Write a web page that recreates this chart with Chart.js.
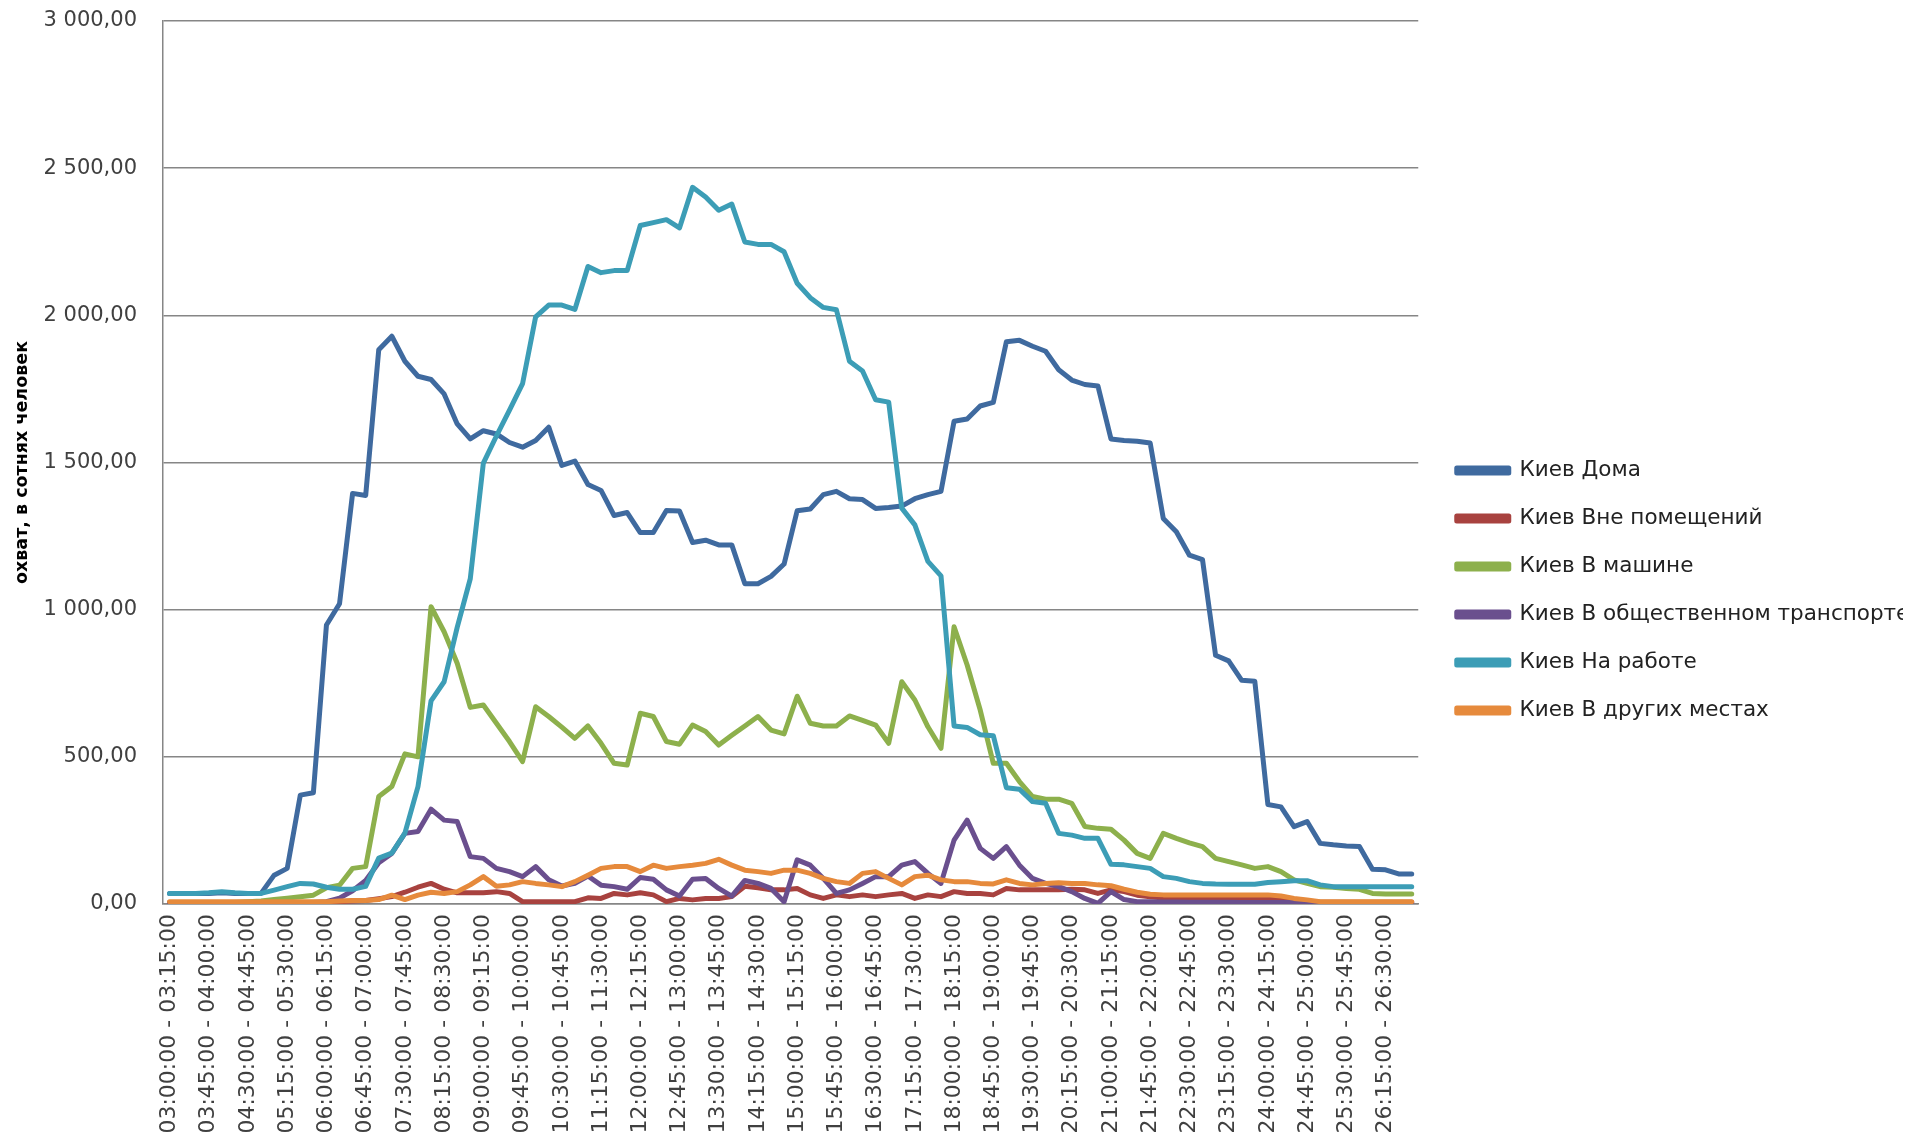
<!DOCTYPE html>
<html>
<head>
<meta charset="utf-8">
<script src="https://cdn.jsdelivr.net/npm/chart.js@4.4.1/dist/chart.umd.min.js"></script>
<style>
  html, body { margin: 0; padding: 0; background: #fff; }
  #wrap { width: 1923px; height: 1138px; }
</style>
</head>
<body>
<div id="wrap"><canvas id="chart" width="1923" height="1138"></canvas></div>
<script>
// Интервалы по 15 минут (03:00 - 27:00)
var categories = [
  "03:00:00 - 03:15:00", "03:15:00 - 03:30:00", "03:30:00 - 03:45:00", "03:45:00 - 04:00:00",
  "04:00:00 - 04:15:00", "04:15:00 - 04:30:00", "04:30:00 - 04:45:00", "04:45:00 - 05:00:00",
  "05:00:00 - 05:15:00", "05:15:00 - 05:30:00", "05:30:00 - 05:45:00", "05:45:00 - 06:00:00",
  "06:00:00 - 06:15:00", "06:15:00 - 06:30:00", "06:30:00 - 06:45:00", "06:45:00 - 07:00:00",
  "07:00:00 - 07:15:00", "07:15:00 - 07:30:00", "07:30:00 - 07:45:00", "07:45:00 - 08:00:00",
  "08:00:00 - 08:15:00", "08:15:00 - 08:30:00", "08:30:00 - 08:45:00", "08:45:00 - 09:00:00",
  "09:00:00 - 09:15:00", "09:15:00 - 09:30:00", "09:30:00 - 09:45:00", "09:45:00 - 10:00:00",
  "10:00:00 - 10:15:00", "10:15:00 - 10:30:00", "10:30:00 - 10:45:00", "10:45:00 - 11:00:00",
  "11:00:00 - 11:15:00", "11:15:00 - 11:30:00", "11:30:00 - 11:45:00", "11:45:00 - 12:00:00",
  "12:00:00 - 12:15:00", "12:15:00 - 12:30:00", "12:30:00 - 12:45:00", "12:45:00 - 13:00:00",
  "13:00:00 - 13:15:00", "13:15:00 - 13:30:00", "13:30:00 - 13:45:00", "13:45:00 - 14:00:00",
  "14:00:00 - 14:15:00", "14:15:00 - 14:30:00", "14:30:00 - 14:45:00", "14:45:00 - 15:00:00",
  "15:00:00 - 15:15:00", "15:15:00 - 15:30:00", "15:30:00 - 15:45:00", "15:45:00 - 16:00:00",
  "16:00:00 - 16:15:00", "16:15:00 - 16:30:00", "16:30:00 - 16:45:00", "16:45:00 - 17:00:00",
  "17:00:00 - 17:15:00", "17:15:00 - 17:30:00", "17:30:00 - 17:45:00", "17:45:00 - 18:00:00",
  "18:00:00 - 18:15:00", "18:15:00 - 18:30:00", "18:30:00 - 18:45:00", "18:45:00 - 19:00:00",
  "19:00:00 - 19:15:00", "19:15:00 - 19:30:00", "19:30:00 - 19:45:00", "19:45:00 - 20:00:00",
  "20:00:00 - 20:15:00", "20:15:00 - 20:30:00", "20:30:00 - 20:45:00", "20:45:00 - 21:00:00",
  "21:00:00 - 21:15:00", "21:15:00 - 21:30:00", "21:30:00 - 21:45:00", "21:45:00 - 22:00:00",
  "22:00:00 - 22:15:00", "22:15:00 - 22:30:00", "22:30:00 - 22:45:00", "22:45:00 - 23:00:00",
  "23:00:00 - 23:15:00", "23:15:00 - 23:30:00", "23:30:00 - 23:45:00", "23:45:00 - 24:00:00",
  "24:00:00 - 24:15:00", "24:15:00 - 24:30:00", "24:30:00 - 24:45:00", "24:45:00 - 25:00:00",
  "25:00:00 - 25:15:00", "25:15:00 - 25:30:00", "25:30:00 - 25:45:00", "25:45:00 - 26:00:00",
  "26:00:00 - 26:15:00", "26:15:00 - 26:30:00", "26:30:00 - 26:45:00", "26:45:00 - 27:00:00"
];

// Охват по местам, в сотнях человек
var doma = [
  36, 36, 36, 36, 38, 36, 36, 36, 98, 121, 370, 378, 948, 1020, 1395, 1388,
  1883, 1929, 1844, 1793, 1782, 1733, 1631, 1580, 1608, 1597, 1568, 1552, 1575, 1620, 1490, 1505,
  1425, 1405, 1320, 1330, 1262, 1262, 1337, 1335, 1228, 1236, 1220, 1220, 1088, 1088, 1113, 1155,
  1336, 1342, 1391, 1402, 1377, 1374, 1344, 1347, 1352, 1377, 1391, 1402, 1640, 1648, 1692, 1704,
  1910, 1915, 1895, 1878, 1815, 1780, 1765, 1760, 1580, 1575, 1572, 1566, 1310, 1265, 1185, 1170,
  845, 826, 760, 757, 338, 330, 263, 280, 206, 201, 197, 195, 118, 116, 102, 102
];
var vnePomeshcheniy = [
  5, 5, 5, 5, 5, 5, 5, 5, 5, 5, 5, 5, 5, 8, 10, 12,
  18, 25, 40, 57, 70, 50, 38, 38, 38, 42, 36, 8, 8, 8, 8, 8,
  21, 19, 36, 31, 38, 31, 8, 19, 14, 19, 19, 25, 60, 55, 48, 48,
  53, 31, 19, 31, 25, 31, 25, 31, 36, 19, 31, 25, 42, 36, 36, 31,
  53, 48, 48, 48, 48, 50, 48, 36, 48, 42, 30, 25, 20, 20, 20, 20,
  20, 20, 20, 20, 20, 20, 8, 6, 6, 6, 6, 6, 6, 6, 6, 6
];
var vMashine = [
  5, 5, 5, 5, 5, 5, 8, 10, 15, 20, 25, 30, 55, 64, 121, 127,
  365, 399, 510, 500, 1010, 925, 818, 668, 676, 614, 552, 484, 670, 637, 601, 563,
  605, 546, 478, 472, 648, 637, 552, 543, 608, 586, 540, 573, 605, 637, 591, 578,
  706, 614, 605, 605, 639, 624, 608, 546, 755, 693, 602, 529, 942, 812, 659, 478,
  478, 416, 365, 356, 356, 342, 263, 257, 254, 217, 172, 155, 240, 223, 208, 195,
  155, 144, 133, 121, 127, 110, 82, 70, 59, 57, 53, 50, 36, 34, 34, 34
];
var vTransporte = [
  3, 3, 3, 3, 3, 3, 3, 3, 3, 3, 3, 5, 8, 20, 45, 80,
  140, 172, 240, 246, 322, 285, 280, 161, 155, 121, 110, 93, 127, 82, 61, 70,
  95, 64, 59, 50, 90, 84, 48, 27, 84, 87, 53, 27, 80, 70, 53, 8,
  150, 132, 87, 36, 48, 70, 93, 93, 132, 144, 104, 70, 217, 285, 189, 155,
  195, 132, 87, 70, 59, 42, 19, 2, 42, 15, 8, 8, 7, 7, 6, 6,
  6, 6, 5, 5, 5, 5, 5, 5, 5, 5, 5, 5, 5, 5, 5, 5
];
var naRabote = [
  36, 36, 36, 38, 42, 38, 36, 36, 47, 59, 70, 68, 57, 50, 50, 60,
  156, 173, 241, 399, 690, 755, 940, 1105, 1498, 1590, 1678, 1768, 1995, 2035, 2035, 2020,
  2166, 2145, 2152, 2152, 2305, 2315, 2325, 2297, 2435, 2402, 2357, 2378, 2249, 2241, 2241, 2216,
  2109, 2060, 2027, 2019, 1844, 1811, 1713, 1705, 1345, 1288, 1164, 1115, 605, 600, 575, 572,
  395, 390, 348, 342, 240, 234, 223, 223, 135, 133, 127, 121, 93, 87, 76, 70,
  68, 67, 67, 67, 73, 76, 79, 79, 65, 59, 59, 59, 59, 59, 59, 59
];
var vDrugihMestah = [
  8, 8, 8, 8, 8, 8, 8, 8, 8, 8, 8, 8, 8, 10, 12, 12,
  15, 30, 15, 30, 40, 36, 42, 65, 93, 60, 65, 76, 70, 65, 59, 76,
  98, 121, 127, 127, 110, 132, 121, 127, 132, 138, 152, 132, 115, 110, 104, 115,
  115, 104, 87, 76, 70, 104, 110, 87, 65, 93, 98, 82, 76, 76, 70, 68,
  82, 70, 65, 70, 72, 70, 70, 65, 62, 50, 40, 33, 31, 31, 31, 31,
  31, 31, 31, 31, 31, 27, 19, 14, 8, 8, 8, 8, 8, 8, 8, 8
];

var seriesNames = ["Киев Дома", "Киев Вне помещений", "Киев В машине",
  "Киев В общественном транспорте", "Киев На работе", "Киев В других местах"];
var seriesColors = ["#3f6a9f", "#a8423f", "#8db04c", "#6a4f8e", "#3c9db6", "#e68a3c"];
var seriesData = [doma, vnePomeshcheniy, vMashine, vTransporte, naRabote, vDrugihMestah];

var yMax = 3000;
var yStep = 500;

var FONT = "'DejaVu Sans', Verdana, sans-serif";

// 2500 -> "2 500,00"
function formatNumber(v) {
  var parts = v.toFixed(2).split(".");
  var intPart = parts[0].replace(/\B(?=(\d{3})+(?!\d))/g, " ");
  return intPart + "," + parts[1];
}

// последние серии рисуются поверх (как в Excel)
var datasets = seriesNames.map(function(name, i) {
  return {
    label: name,
    data: seriesData[i],
    borderColor: seriesColors[i],
    backgroundColor: seriesColors[i],
    borderWidth: 5,
    pointRadius: 0,
    tension: 0,
    fill: false,
    order: seriesNames.length - i
  };
});

// легенда чуть правее, чем её ставит раскладка
var legendShift = {
  id: "legendShift",
  afterLayout: function(chart) {
    chart.legend.left += 12;
    chart.legend.right += 12;
  }
};

var ctx = document.getElementById("chart").getContext("2d");
var chart = new Chart(ctx, {
  type: "line",
  data: {
    labels: categories,
    datasets: datasets
  },
  plugins: [legendShift],
  options: {
    responsive: false,
    animation: false,
    devicePixelRatio: 1,
    layout: { padding: { top: 21, bottom: 0, left: 0, right: 32 } },
    elements: {
      line: { borderJoinStyle: "round", borderCapStyle: "round" }
    },
    plugins: {
      tooltip: { enabled: false },
      legend: {
        position: "right",
        // пустой заголовок только сдвигает пункты вниз
        title: { display: true, text: " ", padding: { top: 10, bottom: 0 }, font: { size: 10 } },
        labels: {
          boxWidth: 52,
          boxHeight: 5,
          padding: 26.5,
          color: "#222",
          font: { family: FONT, size: 21.5 },
          sort: function(a, b) { return a.datasetIndex - b.datasetIndex; }
        }
      }
    },
    scales: {
      x: {
        offset: true,
        grid: { display: false, drawTicks: false },
        border: { display: true, color: "#868686", width: 1.5 },
        afterFit: function(scale) { scale.height = 234; },
        ticks: {
          autoSkip: false,
          minRotation: 90,
          maxRotation: 90,
          padding: 10,
          color: "#404040",
          font: { family: FONT, size: 22 },
          callback: function(value, index) {
            return index % 3 === 0 ? this.getLabelForValue(value) : "";
          }
        }
      },
      y: {
        min: 0,
        max: yMax,
        grid: { color: "#868686", lineWidth: 1.5, tickLength: 22, tickColor: "rgba(0,0,0,0)" },
        border: { color: "#868686", width: 1.5 },
        afterFit: function(scale) { scale.width = 163; },
        ticks: {
          stepSize: yStep,
          padding: 4,
          color: "#404040",
          font: { family: FONT, size: 21 },
          callback: function(value) { return formatNumber(value); }
        },
        title: {
          display: true,
          text: "охват, в сотнях человек",
          color: "#000",
          font: { family: FONT, size: 17.5, weight: "bold" },
          padding: { top: 12, bottom: 14 }
        }
      }
    }
  }
});
</script>
</body>
</html>
